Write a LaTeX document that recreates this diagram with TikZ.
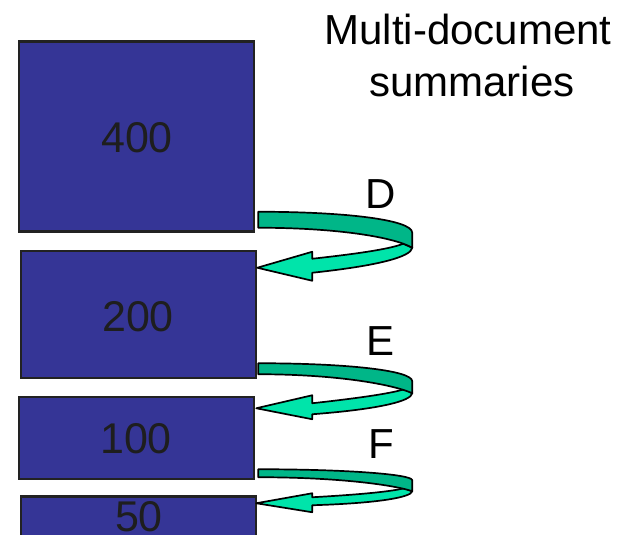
\documentclass[tikz,border=0pt]{standalone}
\usepackage{fontspec}
\setmainfont{Liberation Sans}
\usetikzlibrary{calc}

\definecolor{boxblue}{RGB}{53,53,150}
\definecolor{boxedge}{RGB}{34,34,34}
\definecolor{labelgray}{RGB}{30,30,30}
\definecolor{bandback}{RGB}{0,182,136}
\definecolor{bandfront}{RGB}{0,228,170}

\tikzset{
  levelbox/.style={draw=boxedge, fill=boxblue, line width=2.5pt,
    minimum width=235pt, inner sep=0pt},
  boxlabel/.style={text=labelgray, anchor=base, inner sep=0pt,
    font=\fontsize{43}{50}\selectfont},
  steplabel/.style={anchor=base, inner sep=0pt,
    font=\fontsize{42}{49}\selectfont},
  backband/.style={draw=black, fill=bandback, line width=1.7pt, line join=round},
  frontband/.style={draw=black, fill=bandfront, line width=1.7pt, line join=round},
}

\begin{document}
\begin{tikzpicture}[x=1pt, y=-1pt]
\useasboundingbox (0,0) rectangle (622,535);
\clip (0,0) rectangle (622,535);

% summary-length boxes
\node[levelbox, minimum height=190pt] (b400) at (136.5,136.5) {};
\node[levelbox, minimum height=127pt] (b200) at (138.5,314.5) {};
\node[levelbox, minimum height=82pt]  (b100) at (136.5,438) {};
\node[levelbox, minimum height=80pt]  (b50)  at (138.5,536.5) {};

\node[boxlabel] (t400) at (137,153) {400};
\node[boxlabel] (t200) at (138,331) {200};
\node[boxlabel] (t100) at (136,453) {100};
\node[boxlabel] (t50)  at (139,531) {50};

% heading
\node[steplabel] (title1) at (468,45) {Multi-document};
\node[steplabel] (title2) at (472,96) {summaries};

% step letters
\node[steplabel] (lD) at (381,208) {D};
\node[steplabel] (lE) at (381,355) {E};
\node[steplabel] (lF) at (381,458) {F};

% start points of the looping ribbons
\coordinate (sD) at ($(b400.south east)+(3,-21)$);
\coordinate (sE) at ($(b200.south east)+(1,-16)$);
\coordinate (sF) at ($(b100.south east)+(3,-11)$);

% ribbon D: 400 -> 200
\begin{scope}[shift={(sD)}]
  \path[frontband] (154,36) .. controls (153,45) and (120,54) .. (54,61)
    -- (54,69) -- (-1,56) -- (54,40) -- (54,47)
    .. controls (90,43) and (130,38) .. (145,32) -- cycle;
  \path[backband] (0,0) .. controls (87,0) and (154,8) .. (154,21)
    -- (154,36) .. controls (137,26) and (82,16) .. (0,16) -- cycle;
\end{scope}

% ribbon E: 200 -> 100
\begin{scope}[shift={(sE)}]
  \path[frontband] (154,30) .. controls (153,38) and (120,46) .. (54,51)
    -- (54,56) -- (-2,45) -- (54,32) -- (54,40)
    .. controls (90,36) and (130,31) .. (146,26) -- cycle;
  \path[backband] (0,0) .. controls (87,0) and (154,7) .. (154,18)
    -- (154,30) .. controls (137,22) and (82,11) .. (0,11) -- cycle;
\end{scope}

% ribbon F: 100 -> 50
\begin{scope}[shift={(sF)}]
  \path[frontband] (154,22) .. controls (153,28) and (120,34) .. (54,36)
    -- (54,43) -- (-2,34) -- (54,24) -- (54,28)
    .. controls (90,26) and (130,23) .. (146,19) -- cycle;
  \path[backband] (0,0) .. controls (87,0) and (154,5) .. (154,11)
    -- (154,22) .. controls (137,16) and (82,8) .. (0,8) -- cycle;
\end{scope}
\end{tikzpicture}
\end{document}
